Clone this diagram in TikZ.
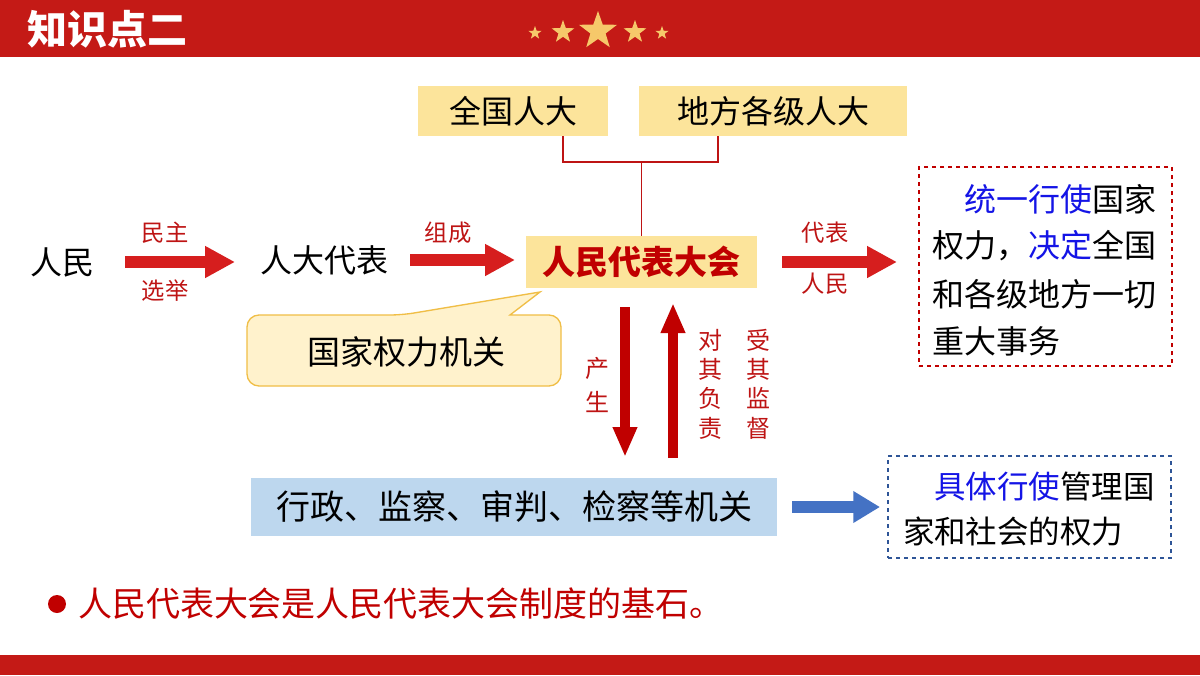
\documentclass[tikz,border=0pt]{standalone}
\usepackage{fontspec}
\setmainfont{Noto Sans CJK SC}
\usetikzlibrary{arrows.meta,shapes.geometric}
\definecolor{barred}{RGB}{196,26,22}
\definecolor{starcol}{RGB}{246,200,106}
\definecolor{boxyellow}{RGB}{252,228,155}
\definecolor{arrred}{RGB}{214,30,30}
\definecolor{darkred}{RGB}{192,0,0}
\definecolor{labred}{RGB}{190,20,20}
\definecolor{calfill}{RGB}{255,242,204}
\definecolor{caldraw}{RGB}{240,190,70}
\definecolor{lightblue}{RGB}{189,215,238}
\definecolor{arrblue}{RGB}{68,114,196}
\definecolor{txtblue}{RGB}{20,20,230}
\definecolor{dashblue}{RGB}{46,85,151}
\newcommand\myfs[1]{\fontsize{#1}{#1}\selectfont}
\begin{document}
\begin{tikzpicture}[x=0.75pt,y=-0.75pt,
  every node/.style={inner sep=0pt,outer sep=0pt},
  ybox/.style={fill=boxyellow,minimum height=37.5pt,font=\myfs{24}},
  bigarrow/.style={draw=arrred,line width=9pt,-{Triangle[length=22.5pt,width=22.5pt]}},
  varrow/.style={draw=darkred,line width=7.5pt,-{Triangle[length=22.5pt,width=17pt]}},
  barrow/.style={draw=arrblue,line width=9pt,-{Triangle[length=20pt,width=22.5pt]}},
  lbl/.style={text=labred,font=\myfs{17.5}},
  vlbl/.style={text=labred,align=center},
  mainrow/.style={font=\myfs{24}},
  starn/.style={star,star points=5,star point ratio=2.5,fill=starcol},
  linkline/.style={draw=labred,line width=0.9pt}
]
\useasboundingbox (0,0) rectangle (1200,675);
\fill[white] (0,0) rectangle (1200,675);
% bars
\fill[barred] (0,0) rectangle (1200,57);
\fill[barred] (0,655) rectangle (1200,675);
\node[anchor=west,text=white,font=\myfs{30}\bfseries] (title) at (27,29) {知识点二};
\node[starn,minimum size=10.5pt] (s1) at (535,33) {};
\node[starn,minimum size=18pt] (s2) at (563,32) {};
\node[starn,minimum size=30pt] (s3) at (598,31) {};
\node[starn,minimum size=18pt] (s4) at (635,32) {};
\node[starn,minimum size=10.5pt] (s5) at (662,33) {};
% top boxes
\node[ybox,minimum width=142.5pt] (qg) at (513,111) {全国人大};
\node[ybox,minimum width=201pt] (df) at (773,111) {地方各级人大};
\node[fill=boxyellow,minimum width=173.25pt,minimum height=39pt,text=darkred,font=\myfs{24.75}\bfseries] (ppc) at (641.5,262) {人民代表大会};
\coordinate (jn) at (641.5,162);
\draw[linkline] (563,0 |- qg.south) -- (563,162) -- (718,162) -- (718,0 |- df.south);
\draw[linkline] (jn) -- (ppc.north);
% row
\node[mainrow] (rm) at (63,262) {人民};
\node[mainrow] (db) at (324,260) {人大代表};
\draw[bigarrow,shorten <=22.5pt,shorten >=18.75pt] (rm.east) -- (rm.east -| db.west);
\node[lbl] (l1) at (165,233) {民主};
\node[lbl] (l2) at (165,291) {选举};
\draw[bigarrow,shorten <=16.5pt,shorten >=8.25pt] (db.east) -- (db.east -| ppc.west);
\node[lbl] (l3) at (448,233) {组成};
% right red box
\node[draw=darkred,dashed,line width=0.9pt,minimum width=189.75pt,minimum height=149.25pt] (rb) at (1045.5,266.5) {};
\draw[bigarrow,shorten <=18.75pt,shorten >=16.5pt] (ppc.east) -- (ppc.east -| rb.west);
\node[lbl] (l4) at (825,233) {代表};
\node[lbl] (l5) at (825,284) {人民};
\node[anchor=west,font=\myfs{24}] (r1) at (932,199) {\hspace*{1em}\textcolor{txtblue}{统一行使}国家};
\node[anchor=west,font=\myfs{24}] (r2) at (932,246) {权力，\textcolor{txtblue}{决定}全国};
\node[anchor=west,font=\myfs{24}] (r3) at (932,294) {和各级地方一切};
\node[anchor=west,font=\myfs{24}] (r4) at (932,341) {重大事务};
% callout
\draw[fill=calfill,draw=caldraw,line width=1pt] (247,350) [rounded corners=9pt] -- (247,315) -- (402,315) [sharp corners] -- (540,292) -- (510,315) [rounded corners=9pt] -- (561,315) -- (561,386) -- (247,386) -- cycle;
\node[font=\myfs{24.75}] (gj) at (406,352) {国家权力机关};
% lower blue box
\node[fill=lightblue,minimum width=394.5pt,minimum height=43.5pt,font=\myfs{25.5}] (gov) at (514,507) {行政、监察、审判、检察等机关};
\draw[varrow,shorten <=14.25pt,shorten >=15.75pt] (625,0 |- ppc.south) -- (625,0 |- gov.north);
\draw[varrow,shorten <=15pt,shorten >=11.25pt] (673,0 |- gov.north) -- (673,0 |- ppc.south);
\node[vlbl,font=\fontsize{18}{25.5}\selectfont] (v1) at (597,385) {产\\生};
\node[vlbl,font=\fontsize{18}{22}\selectfont] (v2) at (710,384) {对\\其\\负\\责};
\node[vlbl,font=\fontsize{18}{22}\selectfont] (v3) at (758,384) {受\\其\\监\\督};
% right blue box
\node[draw=dashblue,dashed,line width=0.9pt,minimum width=212.25pt,minimum height=76.5pt] (bb) at (1029.5,507) {};
\draw[barrow,shorten <=11.25pt,shorten >=6pt] (gov.east) -- (gov.east -| bb.west);
\node[anchor=west,font=\myfs{23.6}] (b1) at (903,487) {\hspace*{1em}\textcolor{txtblue}{具体行使}管理国};
\node[anchor=west,font=\myfs{23.6}] (b2) at (903,532) {家和社会的权力};
% bullet
\fill[darkred] (57,604) circle[radius=9];
\node[anchor=west,text=darkred,font=\myfs{25.5}] (bl) at (78,604) {人民代表大会是人民代表大会制度的基石。};
\end{tikzpicture}
\end{document}
